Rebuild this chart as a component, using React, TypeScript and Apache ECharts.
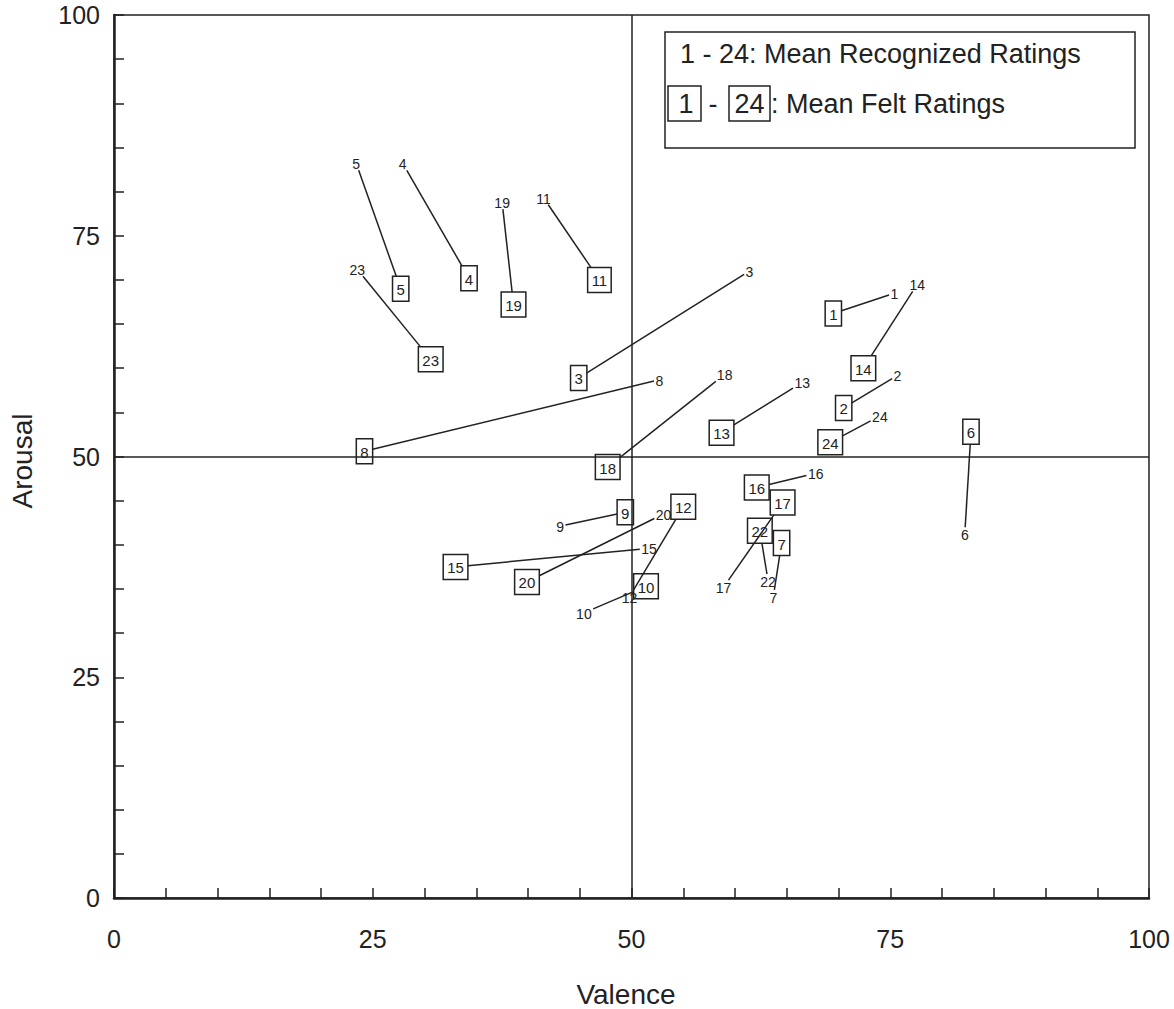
import React, { useEffect, useRef } from "react";
import * as echarts from "echarts";

const FONT = '"Liberation Sans", Arial, Helvetica, sans-serif';
const INK = "#222";

// Excerpt ids (21 is absent in the figure)
const ids = [1, 2, 3, 4, 5, 6, 7, 8, 9, 10, 11, 12, 13, 14, 15, 16, 17, 18, 19, 20, 22, 23, 24];
// Mean recognized ratings
const recValence = [75.4, 75.7, 61.4, 27.9, 23.4, 82.2, 63.7, 52.7, 43.1, 45.4, 41.5, 49.8, 66.5, 77.6, 51.7, 67.8, 58.9, 59.0, 37.5, 53.1, 63.2, 23.5, 74.0];
const recArousal = [68.5, 59.2, 71.0, 83.2, 83.2, 41.2, 34.1, 58.7, 42.1, 32.3, 79.3, 34.1, 58.4, 69.5, 39.6, 48.1, 35.2, 59.3, 78.8, 43.5, 35.9, 71.2, 54.6];
// Mean felt ratings
const feltValence = [69.5, 70.5, 44.9, 34.3, 27.7, 82.8, 64.5, 24.2, 49.4, 51.4, 46.9, 55.0, 58.7, 72.4, 33.0, 62.1, 64.6, 47.7, 38.6, 39.9, 62.4, 30.6, 69.2];
const feltArousal = [66.2, 55.5, 58.9, 70.2, 69.0, 52.8, 40.2, 50.6, 43.7, 35.3, 70.0, 44.3, 52.7, 60.0, 37.5, 46.5, 44.8, 48.8, 67.2, 35.8, 41.6, 61.0, 51.6];

const tickValues = [0, 25, 50, 75, 100];

let measureCtx: CanvasRenderingContext2D | null = null;
function measure(text: string, size: number): number {
  if (!measureCtx) measureCtx = document.createElement("canvas").getContext("2d");
  if (!measureCtx) return text.length * size * 0.556;
  measureCtx.font = `${size}px ${FONT}`;
  return measureCtx.measureText(text).width;
}

function clipT(dx: number, dy: number, hw: number, hh: number): number {
  const tx = Math.abs(dx) > 1e-6 ? hw / Math.abs(dx) : Infinity;
  const ty = Math.abs(dy) > 1e-6 ? hh / Math.abs(dy) : Infinity;
  return Math.min(tx, ty);
}

const LEG = 27;

export default function App() {
  const ref = useRef<HTMLDivElement>(null);

  useEffect(() => {
    document.body.style.margin = "0";
    if (!ref.current) return;
    const chart = echarts.init(ref.current, undefined, { renderer: "svg" });

    const data = ids.map((id, i) => [recValence[i], recArousal[i], feltValence[i], feltArousal[i], id]);

    const axisCommon = {
      type: "value" as const,
      min: 0,
      max: 100,
      interval: 5,
      splitLine: { show: false },
      axisLine: { show: true, lineStyle: { color: INK, width: 2.5 } },
      axisTick: { show: true, inside: true, length: 10, lineStyle: { color: INK, width: 1.5 } },
    };

    const centered = { fill: INK, align: "center", verticalAlign: "middle", textAlign: "center", textVerticalAlign: "middle" };
    const lefted = { fill: INK, align: "left", verticalAlign: "middle", textAlign: "left", textVerticalAlign: "middle" };

    const option: any = {
      animation: false,
      backgroundColor: "#fff",
      grid: {
        left: 114,
        right: 25,
        top: 15,
        bottom: 111,
        containLabel: false,
        outerBoundsMode: "none",
        show: true,
        borderColor: INK,
        borderWidth: 1.5,
        backgroundColor: "transparent",
      },
      xAxis: {
        ...axisCommon,
        axisLabel: {
          margin: 28,
          fontSize: 25,
          fontFamily: FONT,
          color: INK,
          formatter: (v: number) => (tickValues.indexOf(v) >= 0 ? String(v) : ""),
        },
      },
      yAxis: {
        ...axisCommon,
        axisLabel: {
          margin: 14,
          fontSize: 25,
          fontFamily: FONT,
          color: INK,
          formatter: (v: number) => (tickValues.indexOf(v) >= 0 ? String(v) : ""),
        },
      },
      graphic: [
        { type: "text", x: 626, y: 994, style: { text: "Valence", font: `28px ${FONT}`, ...centered } },
        { type: "text", x: 22, y: 461, rotation: Math.PI / 2, style: { text: "Arousal", font: `28px ${FONT}`, ...centered } },
        {
          type: "rect",
          shape: { x: 665, y: 32, width: 470, height: 116 },
          style: { fill: "#fff", stroke: INK, lineWidth: 1.5 },
          z: 100,
        },
        { type: "text", x: 680, y: 54, z: 101, style: { text: "1 - 24: Mean Recognized Ratings", font: `${LEG}px ${FONT}`, ...lefted } },
        { type: "rect", z: 101, shape: { x: 668, y: 86, width: 33, height: 35 }, style: { fill: "none", stroke: INK, lineWidth: 1.5 } },
        { type: "text", x: 686, y: 104, z: 101, style: { text: "1", font: `${LEG}px ${FONT}`, ...centered } },
        { type: "text", x: 713, y: 104, z: 101, style: { text: "-", font: `${LEG}px ${FONT}`, ...centered } },
        { type: "rect", z: 101, shape: { x: 729, y: 86, width: 41, height: 35 }, style: { fill: "none", stroke: INK, lineWidth: 1.5 } },
        { type: "text", x: 749.5, y: 104, z: 101, style: { text: "24", font: `${LEG}px ${FONT}`, ...centered } },
        { type: "text", x: 771, y: 104, z: 101, style: { text: ": Mean Felt Ratings", font: `${LEG}px ${FONT}`, ...lefted } },
      ],
      series: [
        {
          type: "line",
          data: [],
          silent: true,
          markLine: {
            silent: true,
            symbol: ["none", "none"],
            label: { show: false },
            lineStyle: { color: INK, width: 1.5, type: "solid" },
            data: [{ xAxis: 50 }, { yAxis: 50 }],
          },
        },
        {
          type: "custom",
          coordinateSystem: "cartesian2d",
          data,
          encode: { x: [0, 2], y: [1, 3] },
          silent: true,
          renderItem: (params: any, api: any) => {
            const p1 = api.coord([api.value(0), api.value(1)]);
            const p2 = api.coord([api.value(2), api.value(3)]);
            const id = String(api.value(4));
            const wr = measure(id, 14);
            const wf = measure(id, 15);
            const rHW = wr / 2 + 1.5;
            const rHH = 7;
            const boxW = wf + 8;
            const boxH = 25;
            const fHW = boxW / 2;
            const fHH = boxH / 2;
            const dx = p2[0] - p1[0];
            const dy = p2[1] - p1[1];
            const t1 = clipT(dx, dy, rHW, rHH);
            const t2 = clipT(dx, dy, fHW, fHH);
            const children: any[] = [];
            if (t1 + t2 < 1) {
              children.push({
                type: "line",
                shape: {
                  x1: p1[0] + dx * t1,
                  y1: p1[1] + dy * t1,
                  x2: p2[0] - dx * t2,
                  y2: p2[1] - dy * t2,
                },
                style: { stroke: INK, lineWidth: 1.5 },
              });
            }
            children.push({
              type: "text",
              x: p1[0],
              y: p1[1] + 1,
              style: { text: id, font: `14px ${FONT}`, ...centered },
            });
            children.push({
              type: "rect",
              shape: { x: p2[0] - fHW, y: p2[1] - fHH, width: boxW, height: boxH },
              style: { fill: "none", stroke: INK, lineWidth: 1.5 },
            });
            children.push({
              type: "text",
              x: p2[0],
              y: p2[1] + 1,
              style: { text: id, font: `15px ${FONT}`, ...centered },
            });
            return { type: "group", children };
          },
        },
      ],
    };

    chart.setOption(option);
    return () => chart.dispose();
  }, []);

  return <div ref={ref} style={{ width: 1174, height: 1009 }} />;
}
